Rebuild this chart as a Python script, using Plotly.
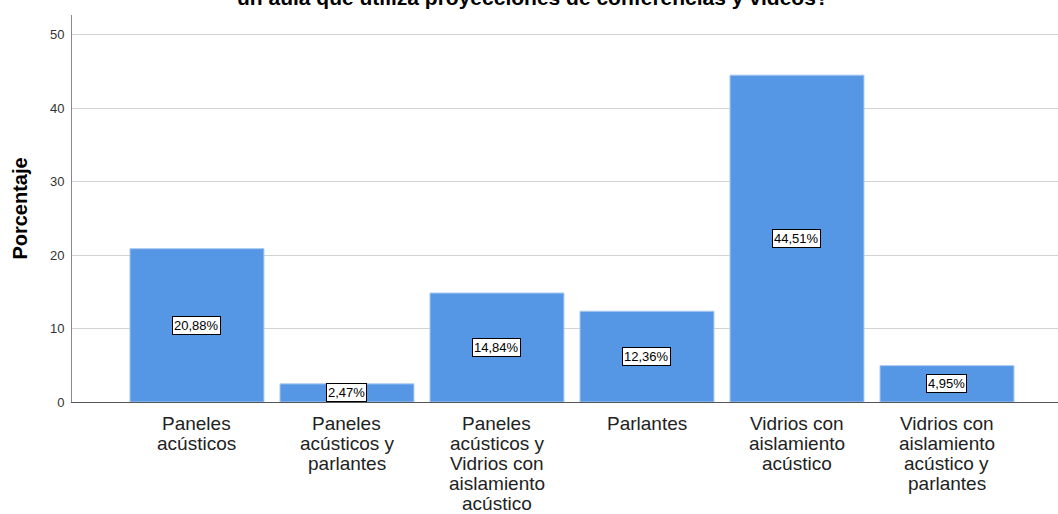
import plotly.graph_objects as go

categories = [
    "Paneles<br>acústicos",
    "Paneles<br>acústicos y<br>parlantes",
    "Paneles<br>acústicos y<br>Vidrios con<br>aislamiento<br>acústico",
    "Parlantes",
    "Vidrios con<br>aislamiento<br>acústico",
    "Vidrios con<br>aislamiento<br>acústico y<br>parlantes",
]
values = [20.88, 2.47, 14.84, 12.36, 44.51, 4.95]
y_ticks = [0, 10, 20, 30, 40, 50]
title_text = "un aula que utiliza proyecciones de conferencias y videos?"
y_title = "Porcentaje"

labels = [f"{v:.2f}".replace(".", ",") + "%" for v in values]
FONT = "Liberation Sans, Arial, sans-serif"

fig = go.Figure()
fig.add_trace(go.Bar(
    x=list(range(len(categories))),
    y=values,
    marker=dict(color="#5596E5", line=dict(color="#A9C9F1", width=1)),
    width=0.893,
    hoverinfo="skip",
))

# value labels in boxes at mid-height of each bar
for i, (v, lab) in enumerate(zip(values, labels)):
    fig.add_annotation(
        x=i, y=v / 2, xref="x", yref="y", text=lab, showarrow=False,
        font=dict(family=FONT, size=13, color="#000000"),
        bgcolor="#FFFFFF", bordercolor="#000000", borderwidth=1, borderpad=1,
    )

# category labels (one annotation per line for tight line spacing)
for i, cat in enumerate(categories):
    for j, line in enumerate(cat.split("<br>")):
        fig.add_annotation(
            x=i, y=0, xref="x", yref="y", text=line, showarrow=False,
            xanchor="center", yanchor="middle", yshift=-21 - 20 * j,
            font=dict(family=FONT, size=19, color="#222222"),
        )

fig.add_annotation(
    x=0.4675, y=1.0447, xref="paper", yref="paper", text="<b>" + title_text + "</b>",
    showarrow=False, xanchor="center", yanchor="middle",
    font=dict(family=FONT, size=21, color="#000000"),
)

fig.update_layout(
    width=1058, height=514,
    margin=dict(l=72, r=0, t=15, b=112),
    paper_bgcolor="#FFFFFF", plot_bgcolor="#FFFFFF",
    showlegend=False,
    xaxis=dict(
        range=[-0.833, 5.74],
        tickmode="array",
        tickvals=list(range(len(categories))),
        showticklabels=False,
        showgrid=False, zeroline=False,
        showline=True, linecolor="#555555", linewidth=1,
        ticks="", automargin=False,
    ),
    yaxis=dict(
        range=[0, 52.7],
        tickmode="array", tickvals=y_ticks,
        showgrid=True, gridcolor="#D2D2D2", gridwidth=1,
        zeroline=False,
        showline=True, linecolor="#888888", linewidth=1,
        ticks="", automargin=False, ticklabelstandoff=4,
        tickfont=dict(family=FONT, size=13, color="#333333"),
        title=dict(text="<b>" + y_title + "</b>", standoff=16,
                   font=dict(family=FONT, size=20, color="#000000")),
    ),
)

fig.write_html("out.html", config={"displayModeBar": False},
               post_script="document.body.style.margin='0';")
